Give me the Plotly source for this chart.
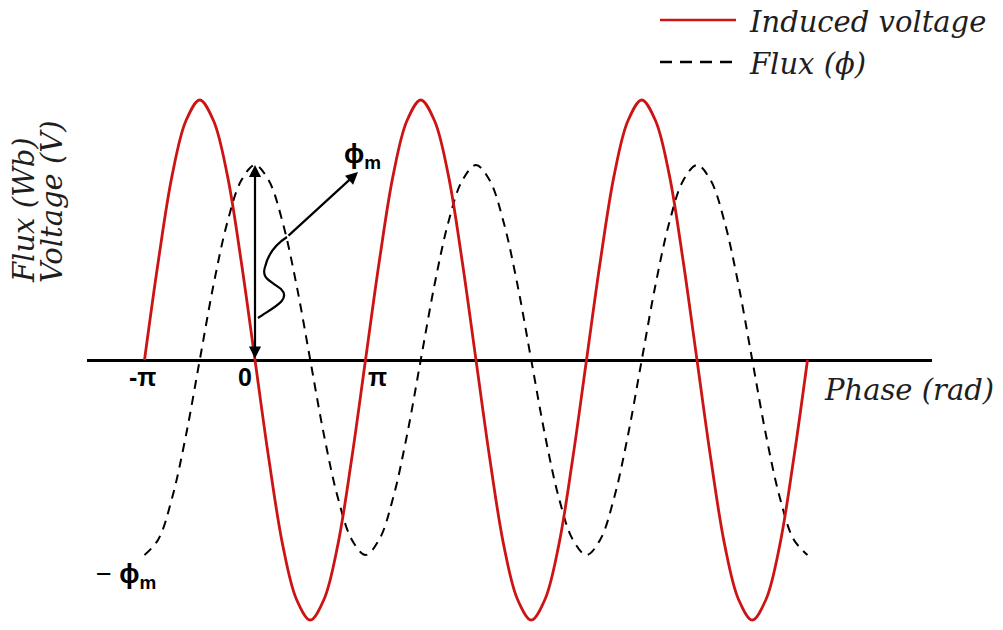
import math
import plotly.graph_objects as go

# Phase samples, in multiples of pi
phase_pi = [
    -1.0, -0.875, -0.75, -0.625, -0.5, -0.375, -0.25, -0.125,
    0.0, 0.125, 0.25, 0.375, 0.5, 0.625, 0.75, 0.875,
    1.0, 1.125, 1.25, 1.375, 1.5, 1.625, 1.75, 1.875,
    2.0, 2.125, 2.25, 2.375, 2.5, 2.625, 2.75, 2.875,
    3.0, 3.125, 3.25, 3.375, 3.5, 3.625, 3.75, 3.875,
    4.0, 4.125, 4.25, 4.375, 4.5, 4.625, 4.75, 4.875,
    5.0,
]

# Induced voltage (normalised to its peak)
voltage = [
    0.0, 0.38, 0.71, 0.92, 1.0, 0.92, 0.71, 0.38,
    0.0, -0.38, -0.71, -0.92, -1.0, -0.92, -0.71, -0.38,
    0.0, 0.38, 0.71, 0.92, 1.0, 0.92, 0.71, 0.38,
    0.0, -0.38, -0.71, -0.92, -1.0, -0.92, -0.71, -0.38,
    0.0, 0.38, 0.71, 0.92, 1.0, 0.92, 0.71, 0.38,
    0.0, -0.38, -0.71, -0.92, -1.0, -0.92, -0.71, -0.38,
    0.0,
]

# Magnetic flux, same scale
flux = [
    -0.75, -0.69, -0.53, -0.29, 0.0, 0.29, 0.53, 0.69,
    0.75, 0.69, 0.53, 0.29, 0.0, -0.29, -0.53, -0.69,
    -0.75, -0.69, -0.53, -0.29, 0.0, 0.29, 0.53, 0.69,
    0.75, 0.69, 0.53, 0.29, 0.0, -0.29, -0.53, -0.69,
    -0.75, -0.69, -0.53, -0.29, 0.0, 0.29, 0.53, 0.69,
    0.75, 0.69, 0.53, 0.29, 0.0, -0.29, -0.53, -0.69,
    -0.75,
]

tick_pi = [-1, 0, 1]
tick_text = ["-π", "0", "π"]
tick_shift = [-2, -10, 12]

W, H = 1003, 630
phase = [p * math.pi for p in phase_pi]

# axis geometry (pixels)
X0_PX, X1_PX, ORIGIN_PX, AXIS_Y_PX = 87, 932, 255, 360
PX_PER_RAD = 221 / (2 * math.pi)
PX_PER_UNIT = 260

x_range = [(X0_PX - ORIGIN_PX) / PX_PER_RAD, (X1_PX - ORIGIN_PX) / PX_PER_RAD]
y_range = [-(H - AXIS_Y_PX) / PX_PER_UNIT, AXIS_Y_PX / PX_PER_UNIT]


def px_to_data(px, py):
    return (px - ORIGIN_PX) / PX_PER_RAD, (AXIS_Y_PX - py) / PX_PER_UNIT


def px_to_paper(px, py):
    return px / W, 1 - py / H


RED = "#cc1414"
SERIF = "DejaVu Serif"
SANS = "Liberation Sans"
TXT = "#1e1e1e"

fig = go.Figure()
fig.add_trace(go.Scatter(
    x=phase, y=flux, mode="lines", name="Flux (ϕ)",
    line=dict(color="black", width=2, dash="9px,7px", shape="spline"),
))
fig.add_trace(go.Scatter(
    x=phase, y=voltage, mode="lines", name="Induced voltage",
    line=dict(color=RED, width=2.8, shape="spline"),
))

ann = []
shapes = []

# tick labels under the phase axis
for v, t, s in zip(tick_pi, tick_text, tick_shift):
    ann.append(dict(x=v * math.pi, y=0, xref="x", yref="y", text=f"<b>{t}</b>",
                    showarrow=False, xanchor="center", yanchor="top", xshift=s,
                    yshift=-1, font=dict(family=SANS, size=25, color="black")))

# phi_m arrow from the axis to the flux peak
peak_val = flux[phase_pi.index(0.0)]
ann.append(dict(x=0, y=peak_val, ax=0, ay=0, xref="x", yref="y", axref="x", ayref="y",
                text="", showarrow=True, arrowhead=2, arrowside="end+start",
                arrowsize=1.1, arrowwidth=2.2, arrowcolor="black"))

# wavy leader to the phi_m label
pts = [(258, 318), (272, 308), (292, 300), (281, 289), (271, 281), (261, 279),
       (265, 267), (268, 254), (276, 244), (287, 237)]
pp = [px_to_paper(*p) for p in pts]
path = f"M {pp[0][0]},{pp[0][1]}"
for i in range(1, len(pp), 3):
    a, b, c = pp[i], pp[i + 1], pp[i + 2]
    path += f" C {a[0]},{a[1]} {b[0]},{b[1]} {c[0]},{c[1]}"
shapes.append(dict(type="path", path=path, xref="paper", yref="paper",
                   line=dict(color="black", width=2.2)))
hx, hy = px_to_data(358, 172)
tx, ty = px_to_data(287, 237)
ann.append(dict(x=hx, y=hy, ax=tx, ay=ty, xref="x", yref="y", axref="x", ayref="y",
                text="", showarrow=True, arrowhead=2, arrowsize=1.1, arrowwidth=2.2,
                arrowcolor="black"))

# phi_m labels
lx, ly = px_to_paper(362, 156)
ann.append(dict(x=lx, y=ly, xref="paper", yref="paper", text="<b>ϕ<sub>m</sub></b>",
                showarrow=False, xanchor="center", yanchor="middle",
                font=dict(family=SANS, size=27, color="black")))
lx, ly = px_to_paper(126, 576)
ann.append(dict(x=lx, y=ly, xref="paper", yref="paper", text="− <b>ϕ<sub>m</sub></b>",
                showarrow=False, xanchor="center", yanchor="middle",
                font=dict(family=SANS, size=27, color="black")))

# axis titles
lx, ly = px_to_paper(822, 390)
ann.append(dict(x=lx, y=ly, xref="paper", yref="paper", text="<i>Phase (rad)</i>",
                showarrow=False, xanchor="left", yanchor="middle",
                font=dict(family=SERIF, size=29, color=TXT)))
for text, cx in [("Flux (Wb)", 24), ("Voltage (V)", 52)]:
    lx, ly = px_to_paper(cx, 285)
    ann.append(dict(x=lx, y=ly, xref="paper", yref="paper", text=f"<i>{text}</i>",
                    showarrow=False, textangle=-90, xanchor="center", yanchor="bottom",
                    font=dict(family=SERIF, size=29, color=TXT)))

# legend
for ypx, name, color, dash in [(20, "Induced voltage", RED, "solid"),
                               (62, "Flux (ϕ)", "black", "12px,8px")]:
    a = px_to_paper(660, ypx)
    b = px_to_paper(736, ypx)
    shapes.append(dict(type="line", xref="paper", yref="paper", x0=a[0], y0=a[1],
                       x1=b[0], y1=b[1], line=dict(color=color, width=2.6, dash=dash)))
    lx, ly = px_to_paper(747, ypx + 2)
    ann.append(dict(x=lx, y=ly, xref="paper", yref="paper", text=f"<i>{name}</i>",
                    showarrow=False, xanchor="left", yanchor="middle",
                    font=dict(family=SERIF, size=29, color=TXT)))

fig.update_layout(
    width=W, height=H,
    margin=dict(l=0, r=0, t=0, b=0),
    paper_bgcolor="white", plot_bgcolor="white",
    showlegend=False,
    xaxis=dict(domain=[X0_PX / W, X1_PX / W], range=x_range, anchor="free",
               position=(H - AXIS_Y_PX) / H, showline=True, linecolor="black",
               linewidth=3, showgrid=False, zeroline=False, showticklabels=False,
               ticks="", fixedrange=True, layer="below traces"),
    yaxis=dict(domain=[0, 1], range=y_range, visible=False, fixedrange=True),
    annotations=ann,
    shapes=shapes,
)

fig.write_html("out.html")
